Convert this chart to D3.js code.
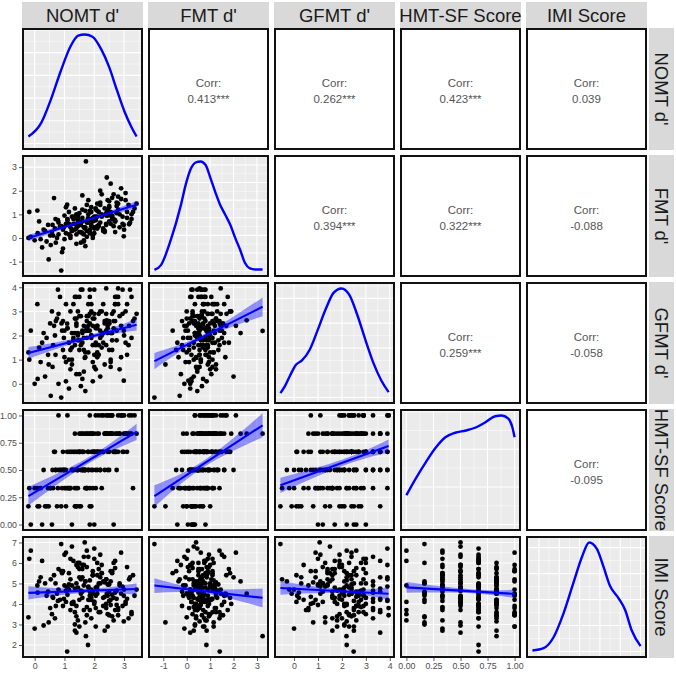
<!DOCTYPE html>
<html>
<head>
<meta charset="utf-8">
<script src="https://cdn.jsdelivr.net/npm/d3@7"></script>
<style>
  body { margin: 0; background: #fff; }
  svg { display: block; font-family: "Liberation Sans", Arial, sans-serif; }
</style>
</head>
<body>
<svg id="chart" width="676" height="676"></svg>
<script>
var varNames = ["NOMT d'", "FMT d'", "GFMT d'", "HMT-SF Score", "IMI Score"];

// one value per participant, same order in every array
var nomt = [
  -0.18,-0.13,-0.21,0.00,0.09,0.89,0.47,0.54,0.30,0.25,
  0.65,0.35,0.62,0.71,0.45,1.05,0.80,0.40,1.20,0.95,
  1.10,0.58,0.20,1.30,0.75,1.15,0.15,0.68,1.40,0.85,
  1.00,0.52,1.25,0.10,0.92,1.35,0.60,1.50,0.78,1.09,
  1.45,1.20,1.60,0.95,1.75,1.30,1.05,1.55,1.40,0.70,
  1.85,1.15,1.65,1.00,1.50,1.25,1.90,0.80,1.35,1.70,
  1.10,1.60,1.45,2.00,0.90,1.80,1.20,1.55,1.35,1.95,
  1.05,1.65,1.25,1.75,1.50,0.98,1.85,1.40,1.15,1.79,
  1.72,1.68,1.80,1.55,2.05,1.40,1.95,1.60,2.20,1.30,
  1.85,1.50,2.10,1.65,1.90,1.45,2.30,1.75,1.35,2.00,
  1.60,2.15,1.70,1.50,1.95,1.80,1.25,2.25,1.55,2.05,
  1.65,1.85,1.40,2.10,1.75,1.60,2.35,1.45,1.90,1.70,
  2.10,2.40,1.90,2.30,2.55,2.00,2.20,1.85,2.45,2.15,
  2.60,1.95,2.35,2.05,2.70,2.25,1.80,2.50,2.00,2.40,
  2.20,2.65,1.90,2.30,2.10,2.55,2.00,2.45,2.15,2.75,
  2.05,2.35,1.95,2.60,2.25,2.50,2.10,2.40,2.20,2.42,
  3.42,3.17,2.99,2.80,2.60,3.05,2.70,2.50,3.25,2.85,
  2.65,3.10,2.45,2.95,2.75,3.30,2.55,2.90,2.70,3.15,
  2.40,3.00,2.80,2.60,3.35,2.65,3.05,2.85,2.50,3.20,
  2.75,2.95,2.55,3.10,2.70,2.90,3.25,2.45,2.99,2.80
];
var fmt = [
  1.10,0.05,0.00,-0.10,1.16,-1.38,-0.91,-0.30,0.35,-0.40,
  1.69,0.30,0.10,-0.20,0.55,0.20,0.65,-0.15,0.45,-0.45,
  0.80,0.25,-0.05,0.60,0.00,0.15,0.70,0.40,-0.25,0.50,
  0.95,0.10,0.30,0.20,-0.60,0.85,0.55,0.25,0.75,1.41,
  0.50,0.10,0.70,0.35,0.05,0.90,0.60,-0.20,0.40,0.80,
  0.25,1.10,0.45,-0.05,0.65,0.30,0.55,0.15,1.25,-0.35,
  0.75,0.20,0.85,0.40,0.50,1.00,0.00,0.65,0.35,0.70,
  1.30,-0.10,0.90,0.30,0.55,0.45,1.15,0.15,0.60,0.84,
  3.24,0.40,0.70,0.25,0.90,0.55,0.10,1.20,0.65,0.80,
  0.35,1.05,0.50,-0.15,0.75,0.95,0.30,1.40,0.60,0.20,
  0.85,1.10,0.45,0.70,0.00,1.60,0.35,0.90,0.55,1.25,
  0.15,0.80,1.00,0.40,0.65,1.80,0.25,0.75,0.50,1.15,
  0.90,0.60,1.30,0.40,1.10,0.75,1.50,0.20,0.95,0.55,
  1.70,0.85,0.30,1.20,0.70,1.00,0.65,1.35,0.45,0.95,
  2.00,0.80,1.10,0.35,1.45,0.60,0.90,1.60,0.50,1.05,
  0.75,1.25,0.15,0.95,1.85,0.70,1.15,0.55,1.40,2.56,
  1.45,0.58,0.07,1.20,0.90,1.60,0.75,1.30,1.00,0.45,
  1.85,0.85,1.15,0.60,1.50,1.10,0.95,2.10,0.70,1.40,
  1.05,0.35,1.75,0.80,1.25,0.50,1.90,1.00,1.55,0.65,
  1.35,0.90,2.30,1.10,0.25,1.65,0.80,1.20,0.55,1.45
];
var gfmt = [
  1.00,2.20,1.30,0.00,3.30,-0.57,0.80,-0.50,2.10,1.70,
  2.40,0.30,1.60,2.60,1.20,0.10,2.90,1.90,0.60,1.40,
  2.30,3.00,0.90,1.80,2.70,-0.20,1.50,2.00,0.40,3.60,
  1.10,2.50,1.00,0.20,2.20,1.60,0.70,2.80,3.90,2.49,
  2.10,1.40,0.20,2.60,1.90,3.30,0.90,1.60,2.40,1.20,
  2.90,1.70,0.50,2.20,3.60,1.50,2.00,0.00,2.70,1.10,
  2.30,3.90,1.80,0.70,2.50,1.30,3.00,-0.10,2.10,1.60,
  3.30,2.40,0.80,2.80,1.40,1.90,2.20,3.60,1.00,2.20,
  2.19,1.07,2.40,3.90,1.60,2.70,0.90,2.10,3.00,1.90,
  2.50,0.40,2.30,1.40,3.30,2.00,1.70,2.60,3.60,1.20,
  2.20,2.90,-0.30,1.80,2.40,3.30,2.10,1.50,2.80,0.60,
  1.90,3.90,2.50,1.10,2.30,1.70,2.60,3.00,2.00,1.30,
  2.40,1.60,3.00,2.10,0.70,2.70,1.90,3.60,2.30,1.20,
  2.90,0.10,2.50,1.70,3.30,2.00,2.80,1.40,3.90,2.20,
  0.30,2.60,1.90,3.30,2.40,1.00,2.90,2.10,1.60,3.60,
  2.30,0.80,2.70,1.80,3.00,2.50,1.30,3.95,2.20,2.63,
  2.90,2.40,0.13,3.30,2.10,1.70,3.60,2.60,1.90,2.80,
  3.00,1.20,2.50,3.90,2.20,2.60,0.90,2.40,3.30,1.60,
  2.90,2.00,3.60,1.40,2.70,2.30,3.00,0.60,2.50,3.90,
  1.80,2.90,2.10,3.30,2.60,1.10,3.60,2.40,2.20,3.95
];
var hmt = [
  0.333,0,0.167,0.333,0.333,0.167,0.167,0.333,0.5,0,
  0.667,0.167,0.333,0.5,0.333,0.167,1,0.167,0.333,0.5,
  0.333,0,0.333,0.5,0.167,0.333,0.167,0.667,0.333,0.5,
  0.5,0.333,0,0.167,0.333,0.333,0.5,0.167,0.333,0.667,
  0.5,0.333,0.5,0.667,0.333,0.5,0.333,0.667,0.167,0.5,
  0.333,0.667,0.5,0.333,0.833,0.5,0.167,0.5,0.667,0.333,
  1,0.5,0.333,0.667,0.5,0.5,0.667,0.167,0.167,0.333,
  0.5,0.667,0.5,0.333,0.667,0.5,0.833,0.5,0.333,0.667,
  0.833,0.5,0.667,0.5,0.333,0.667,0.5,0.833,0.5,0.667,
  0,0.667,0.5,0.833,0.667,0.5,0.667,0.333,0.833,0,
  0.667,1,0.5,0.667,0.833,0.5,0.667,0.333,0.833,0.667,
  0.5,1,0.167,0.667,0.833,0.667,0.5,0.667,0.833,0.5,
  0.667,0.833,0.5,0.667,1,0.833,0.667,0.167,0.833,0.667,
  1,0.667,0.833,0.5,0.667,1,0.833,0.667,0.667,0.833,
  0.5,0,0.833,1,0.667,0.833,0.667,0.5,0.833,0.667,
  1,0.833,0.667,0.833,0.667,0.5,0.833,1,0.667,0.833,
  0.833,1,0.667,0.833,1,0.833,0.667,0.833,1,0.833,
  0.667,0.833,1,0.667,0.833,0.333,0.833,1,0.667,0.833,
  0.833,1,0.667,0.833,1,0.667,0.833,0.833,1,0.833,
  0.5,1,0.833,0.667,0.833,1,0.833,0.667,0.833,1
];
var imi = [
  6.20,6.60,3.35,2.80,4.90,6.92,3.10,5.20,2.95,6.10,
  5.40,5.00,4.30,3.90,4.60,4.10,5.70,4.40,3.70,5.60,
  4.80,3.50,5.30,4.00,4.50,4.70,5.10,3.30,5.90,4.20,
  6.40,3.80,4.90,4.55,5.50,2.70,4.35,6.00,4.15,1.68,
  4.80,5.20,4.30,3.90,5.80,4.10,6.50,4.60,3.40,5.00,
  4.40,5.50,3.70,4.90,5.30,6.80,4.20,4.70,3.60,5.10,
  4.45,5.90,3.20,4.00,5.60,4.85,6.20,4.50,3.00,5.40,
  4.65,6.30,4.05,3.85,5.70,4.25,5.15,2.60,4.95,2.00,
  2.43,7.00,4.80,5.20,4.40,3.90,5.60,4.60,5.00,6.10,
  3.70,4.20,5.40,4.90,3.30,5.80,4.30,6.60,4.75,4.10,
  5.30,3.60,5.10,2.90,4.50,6.30,4.00,5.50,4.65,3.80,
  5.90,4.20,5.00,4.85,3.45,5.70,4.35,6.00,4.55,3.10,
  4.70,5.20,4.30,3.90,5.60,4.10,6.40,4.60,3.50,5.00,
  4.45,5.40,2.70,4.80,3.70,5.90,4.20,4.95,6.70,4.00,
  5.30,3.20,4.70,5.10,4.50,3.95,6.20,4.40,5.70,4.25,
  2.90,5.05,4.60,3.40,5.50,4.15,6.00,3.80,3.60,4.50,
  4.70,5.20,4.40,3.80,5.60,4.10,6.10,4.60,3.50,5.00,
  4.30,5.80,2.90,4.85,3.95,5.40,4.20,6.50,4.55,3.30,
  5.20,4.70,3.70,5.50,4.40,6.00,4.00,4.90,3.45,5.30,
  4.65,3.90,5.10,4.25,5.75,4.50,3.60,4.95,3.15,3.45
];

var tickVals = [[0,1,2,3], [-1,0,1,2,3], [0,1,2,3,4], [0,0.25,0.5,0.75,1], [2,3,4,5,6,7]];
var tickLabels = [["0","1","2","3"], ["-1","0","1","2","3"], ["0","1","2","3","4"],
                  ["0.00","0.25","0.50","0.75","1.00"], ["2","3","4","5","6","7"]];

// upper triangle: [row, col] and printed correlation
var corrCells = [[0,1],[0,2],[0,3],[0,4],[1,2],[1,3],[1,4],[2,3],[2,4],[3,4]];
var corrLabels = ["0.413***","0.262***","0.423***","0.039","0.394***","0.322***","-0.088","0.259***","-0.058","-0.095"];

// diagonal density curves (x, density)
var densX = [
  [-0.21,0.22,0.54,0.87,1.20,1.46,1.68,1.94,2.24,2.50,2.76,3.02,3.25,3.42],
  [-1.38,-1.10,-0.68,-0.25,-0.04,0.17,0.38,0.59,0.80,1.01,1.22,1.43,1.65,1.86,2.07,2.28,2.49,2.70,2.91,3.24],
  [-0.57,-0.37,-0.17,0.08,0.33,0.66,0.99,1.32,1.65,1.98,2.31,2.64,2.98,3.31,3.64,3.95],
  [0,0.09,0.18,0.27,0.36,0.45,0.55,0.64,0.73,0.82,0.88,0.94,0.98,1.0],
  [1.68,2.23,2.72,3.21,3.70,4.12,4.47,4.85,5.17,5.50,5.91,6.24,6.57,7.0]
];
var densY = [
  [0.031,0.091,0.192,0.317,0.427,0.475,0.48,0.47,0.413,0.336,0.235,0.139,0.072,0.031],
  [0.004,0.031,0.174,0.372,0.49,0.577,0.614,0.62,0.601,0.527,0.446,0.372,0.316,0.26,0.186,0.118,0.043,0.012,0.006,0.006],
  [0.018,0.048,0.088,0.132,0.15,0.194,0.273,0.356,0.422,0.44,0.414,0.334,0.233,0.141,0.07,0.022],
  [0.39,0.62,0.83,1.02,1.16,1.22,1.25,1.29,1.36,1.44,1.45,1.41,1.29,1.16],
  [0.004,0.013,0.055,0.147,0.265,0.365,0.42,0.395,0.328,0.252,0.206,0.16,0.08,0.021]
];

// lower triangle lm fits: [row, col], fitted y at min/max x, band half-width at min / mean / max x
var fitCells = [[1,0],[2,0],[2,1],[3,0],[3,1],[3,2],[4,0],[4,1],[4,2],[4,3]];
var fitEnds = [[0.00,1.41],[1.28,2.45],[0.94,3.19],[0.26,0.85],[0.26,0.91],[0.36,0.72],[4.54,4.73],[4.90,4.30],[4.78,4.50],[4.81,4.49]];
var fitHalf = [[0.14,0.06,0.16],[0.24,0.08,0.24],[0.34,0.09,0.39],[0.085,0.028,0.075],[0.10,0.03,0.11],
               [0.07,0.03,0.06],[0.32,0.10,0.28],[0.36,0.12,0.46],[0.33,0.10,0.30],[0.26,0.10,0.20]];

var cols = [nomt, fmt, gfmt, hmt, imi];
var nv = cols.length;

// layout
var padL = 23, padT = 29, pw = 119, ph = 120, gap = 7;
function px(j) { return padL + j * (pw + gap); }
function py(i) { return padT + i * (ph + gap); }

var svg = d3.select("#chart");
var defs = svg.append("defs");

function expand(v) {
  var e = d3.extent(v), p = (e[1] - e[0]) * 0.05;
  return [e[0] - p, e[1] + p];
}
var xs = cols.map(function(v) { return d3.scaleLinear().domain(expand(v)).range([0, pw]); });
var ys = cols.map(function(v) { return d3.scaleLinear().domain(expand(v)).range([ph, 0]); });
var dys = densY.map(function(d) {
  var m = d3.max(d);
  return d3.scaleLinear().domain([-0.05 * m, 1.05 * m]).range([ph, 0]);
});

function minors(major, dom) {
  var out = [], step = major[1] - major[0];
  var first = major[0] - step / 2, last = major[major.length - 1] + step / 2;
  if (first >= dom[0]) out.push(first);
  for (var k = 0; k < major.length - 1; k++) out.push((major[k] + major[k + 1]) / 2);
  if (last <= dom[1]) out.push(last);
  return out;
}

function drawGrid(g, xsc, xMaj, ysc, yMaj) {
  var xMin = minors(xMaj, xsc.domain()), yMin = minors(yMaj, ysc.domain());
  g.selectAll(".gxm").data(xMin).enter().append("line")
    .attr("x1", xsc).attr("x2", xsc).attr("y1", 0).attr("y2", ph)
    .attr("stroke", "#fff").attr("stroke-width", 0.5);
  g.selectAll(".gym").data(yMin).enter().append("line")
    .attr("y1", ysc).attr("y2", ysc).attr("x1", 0).attr("x2", pw)
    .attr("stroke", "#fff").attr("stroke-width", 0.5);
  g.selectAll(".gx").data(xMaj).enter().append("line")
    .attr("x1", xsc).attr("x2", xsc).attr("y1", 0).attr("y2", ph)
    .attr("stroke", "#fff").attr("stroke-width", 1.1);
  g.selectAll(".gy").data(yMaj).enter().append("line")
    .attr("y1", ysc).attr("y2", ysc).attr("x1", 0).attr("x2", pw)
    .attr("stroke", "#fff").attr("stroke-width", 1.1);
}

var panels = {};
for (var i = 0; i < nv; i++) {
  for (var j = 0; j < nv; j++) {
    var id = "clip-" + i + "-" + j;
    defs.append("clipPath").attr("id", id).append("rect").attr("width", pw).attr("height", ph);
    var g = svg.append("g").attr("transform", "translate(" + px(j) + "," + py(i) + ")");
    panels[i + "-" + j] = g;
    if (i < j) {
      g.append("rect").attr("width", pw).attr("height", ph).attr("fill", "#fff");
      continue;
    }
    g.append("rect").attr("width", pw).attr("height", ph).attr("fill", "#ebebeb");
    var inner = g.append("g").attr("clip-path", "url(#" + id + ")");
    if (i === j) {
      var dsc = dys[j];
      var dMaj = dsc.ticks(5).filter(function(t) { return t >= dsc.domain()[0] && t <= dsc.domain()[1]; });
      drawGrid(inner, xs[j], tickVals[j], dsc, dMaj);
      var pts = densX[j].map(function(x, k) { return [x, densY[j][k]]; });
      inner.append("path")
        .attr("d", d3.line()
          .x(function(d) { return xs[j](d[0]); })
          .y(function(d) { return dsc(d[1]); })
          .curve(d3.curveMonotoneX)(pts))
        .attr("fill", "none").attr("stroke", "#0000ff").attr("stroke-width", 2.4);
    } else {
      drawGrid(inner, xs[j], tickVals[j], ys[i], tickVals[i]);
      (function(i, j) {
        inner.selectAll("circle").data(d3.range(cols[j].length)).enter().append("circle")
          .attr("cx", function(k) { return xs[j](cols[j][k]); })
          .attr("cy", function(k) { return ys[i](cols[i][k]); })
          .attr("r", 2.4).attr("fill", "#000");
      })(i, j);
    }
  }
}

// regression lines with confidence bands
fitCells.forEach(function(c, f) {
  var i = c[0], j = c[1];
  var inner = panels[i + "-" + j].select("g");
  var ext = d3.extent(cols[j]), xm = d3.mean(cols[j]);
  var e = fitEnds[f], h = fitHalf[f];
  var ym = e[0] + (e[1] - e[0]) * (xm - ext[0]) / (ext[1] - ext[0]);
  var band = [[ext[0], e[0], h[0]], [xm, ym, h[1]], [ext[1], e[1], h[2]]];
  inner.append("path")
    .attr("d", d3.area()
      .x(function(d) { return xs[j](d[0]); })
      .y0(function(d) { return ys[i](d[1] - d[2]); })
      .y1(function(d) { return ys[i](d[1] + d[2]); })
      .curve(d3.curveNatural)(band))
    .attr("fill", "#0000ff").attr("fill-opacity", 0.4);
  inner.append("line")
    .attr("x1", xs[j](ext[0])).attr("y1", ys[i](e[0]))
    .attr("x2", xs[j](ext[1])).attr("y2", ys[i](e[1]))
    .attr("stroke", "#0000ff").attr("stroke-width", 2.1);
});

// correlation text
corrCells.forEach(function(c, k) {
  var g = panels[c[0] + "-" + c[1]];
  g.append("text").attr("x", pw / 2).attr("y", ph / 2 - 2)
    .attr("text-anchor", "middle").attr("font-size", 11.5).attr("fill", "#555")
    .text("Corr:");
  g.append("text").attr("x", pw / 2).attr("y", ph / 2 + 14)
    .attr("text-anchor", "middle").attr("font-size", 11.5).attr("fill", "#555")
    .text(corrLabels[k]);
});

// panel borders
for (var i2 = 0; i2 < nv; i2++) {
  for (var j2 = 0; j2 < nv; j2++) {
    panels[i2 + "-" + j2].append("rect").attr("width", pw).attr("height", ph)
      .attr("fill", "none").attr("stroke", "#111").attr("stroke-width", 2);
  }
}

// axes: left for rows 2..5, bottom for columns 1..4
function styleAxis(a) {
  a.select(".domain").remove();
  a.selectAll(".tick line").attr("stroke", "#333").attr("stroke-width", 0.8);
  a.selectAll(".tick text").attr("fill", "#4d4d4d").attr("font-size", 8.8)
    .attr("font-family", "Liberation Sans, Arial, sans-serif");
}
for (var r = 1; r < nv; r++) {
  (function(r) {
    var a = svg.append("g").attr("transform", "translate(" + (padL - 1) + "," + py(r) + ")")
      .call(d3.axisLeft(ys[r]).tickValues(tickVals[r]).tickSize(3).tickPadding(2)
        .tickFormat(function(d, k) { return tickLabels[r][k]; }));
    styleAxis(a);
  })(r);
}
for (var cc = 0; cc < nv - 1; cc++) {
  (function(cc) {
    var a = svg.append("g").attr("transform", "translate(" + px(cc) + "," + (py(nv - 1) + ph + 1) + ")")
      .call(d3.axisBottom(xs[cc]).tickValues(tickVals[cc]).tickSize(3).tickPadding(1.5)
        .tickFormat(function(d, k) { return tickLabels[cc][k]; }));
    styleAxis(a);
  })(cc);
}

// strips
varNames.forEach(function(name, k) {
  var cid = "tstrip-" + k;
  defs.append("clipPath").attr("id", cid).append("rect")
    .attr("x", px(k) - 1).attr("y", 2).attr("width", pw + 2).attr("height", 26);
  var t = svg.append("g").attr("clip-path", "url(#" + cid + ")");
  t.append("rect").attr("x", px(k) - 1).attr("y", 2).attr("width", pw + 2).attr("height", 26)
    .attr("fill", "#d9d9d9");
  t.append("text").attr("x", px(k) + pw / 2).attr("y", 21.5)
    .attr("text-anchor", "middle").attr("font-size", 18.5).attr("fill", "#1a1a1a").text(name);

  var rid = "rstrip-" + k;
  var sx = 649, sw = 25;
  defs.append("clipPath").attr("id", rid).append("rect")
    .attr("x", sx).attr("y", py(k) - 1).attr("width", sw).attr("height", ph + 2);
  var s = svg.append("g").attr("clip-path", "url(#" + rid + ")");
  s.append("rect").attr("x", sx).attr("y", py(k) - 1).attr("width", sw).attr("height", ph + 2)
    .attr("fill", "#d9d9d9");
  s.append("text")
    .attr("transform", "translate(" + (sx + sw / 2) + "," + (py(k) + ph / 2) + ") rotate(90)")
    .attr("dy", "0.36em").attr("text-anchor", "middle").attr("font-size", 18.5)
    .attr("fill", "#1a1a1a").text(name);
});
</script>
</body>
</html>
